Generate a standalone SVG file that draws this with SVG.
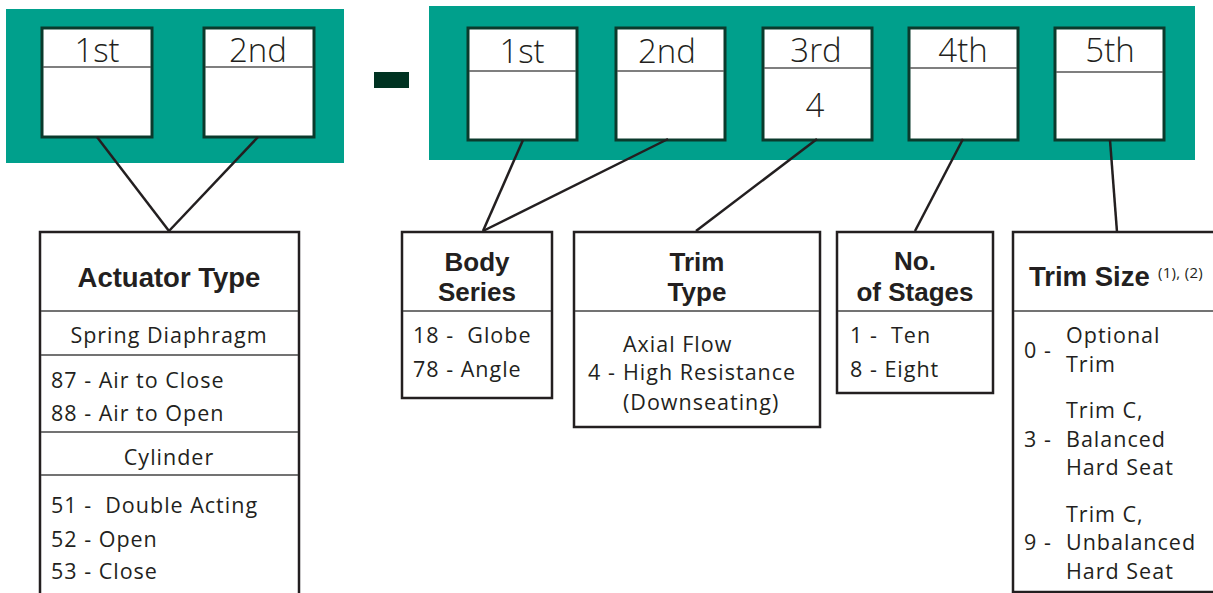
<svg xmlns="http://www.w3.org/2000/svg" width="1213" height="593" viewBox="0 0 1213 593">
  <style>
    .panel { fill: #00a08c; }
    .slot { fill: #ffffff; stroke: #0b3a2c; stroke-width: 3; }
    .slotdiv { stroke: #555555; stroke-width: 1.5; }
    .box { fill: #ffffff; stroke: #231f20; stroke-width: 2.5; }
    .div { stroke: #444444; stroke-width: 1.5; }
    .conn line { stroke: #231f20; stroke-width: 2.5; }
    text { font-family: "Open Sans", "Liberation Sans", sans-serif; fill: #231f20; }
    .pos { font-size: 33px; font-weight: 300; text-anchor: middle; }
    .head { font-family: "Liberation Sans", Arial, sans-serif; font-size: 26px; font-weight: 700; text-anchor: middle; }
    .big { font-size: 27.5px; }
    .item { font-size: 21.5px; letter-spacing: 1px; }
    .mid { text-anchor: middle; }
    .sup { font-size: 15px; letter-spacing: 0.3px; }
  </style>

  <!-- code panels -->
  <rect class="panel" x="6" y="9" width="338" height="154"/>
  <rect class="panel" x="429" y="6" width="766" height="154"/>
  <rect x="374" y="72" width="35" height="16" fill="#003322"/>

  <!-- left panel slots -->
  <g id="slot-a1">
    <rect class="slot" x="42" y="28" width="110" height="109"/>
    <line class="slotdiv" x1="43" y1="67" x2="151" y2="67"/>
    <text class="pos" x="97" y="62">1st</text>
  </g>
  <g id="slot-a2">
    <rect class="slot" x="204" y="28" width="110" height="109"/>
    <line class="slotdiv" x1="205" y1="67" x2="313" y2="67"/>
    <text class="pos" x="258" y="62">2nd</text>
  </g>

  <!-- right panel slots -->
  <g id="slot-b1">
    <rect class="slot" x="468" y="28" width="109" height="112"/>
    <line class="slotdiv" x1="469" y1="71" x2="576" y2="71"/>
    <text class="pos" x="522" y="63">1st</text>
  </g>
  <g id="slot-b2">
    <rect class="slot" x="616" y="28" width="109" height="112"/>
    <line class="slotdiv" x1="617" y1="71" x2="724" y2="71"/>
    <text class="pos" x="667" y="63">2nd</text>
  </g>
  <g id="slot-b3">
    <rect class="slot" x="763" y="28" width="109" height="112"/>
    <line class="slotdiv" x1="764" y1="68" x2="871" y2="68"/>
    <text class="pos" x="816" y="62">3rd</text>
    <text class="pos" x="815" y="117">4</text>
  </g>
  <g id="slot-b4">
    <rect class="slot" x="909" y="28" width="109" height="112"/>
    <line class="slotdiv" x1="910" y1="68" x2="1017" y2="68"/>
    <text class="pos" x="963" y="62">4th</text>
  </g>
  <g id="slot-b5">
    <rect class="slot" x="1055" y="28" width="109" height="112"/>
    <line class="slotdiv" x1="1056" y1="72" x2="1163" y2="72"/>
    <text class="pos" x="1110" y="62">5th</text>
  </g>

  <!-- connectors -->
  <g id="connectors" class="conn">
    <line x1="97" y1="137" x2="169" y2="231"/>
    <line x1="258" y1="137" x2="169" y2="231"/>
    <line x1="523" y1="140" x2="483" y2="231"/>
    <line x1="668" y1="139" x2="483" y2="231"/>
    <line x1="817" y1="139" x2="696" y2="231"/>
    <line x1="963" y1="139" x2="915" y2="231"/>
    <line x1="1110" y1="140" x2="1117" y2="232"/>
  </g>

  <!-- Actuator Type -->
  <g id="actuator-type">
    <rect class="box" x="40" y="232" width="259" height="370"/>
    <line class="div" x1="41" y1="311" x2="298" y2="311"/>
    <line class="div" x1="41" y1="355" x2="298" y2="355"/>
    <line class="div" x1="41" y1="432" x2="298" y2="432"/>
    <line class="div" x1="41" y1="475" x2="298" y2="475"/>
    <text class="head big" x="169" y="287">Actuator Type</text>
    <text class="item mid" x="169" y="343">Spring Diaphragm</text>
    <text class="item" x="51" y="388">87 - Air to Close</text>
    <text class="item" x="51" y="421">88 - Air to Open</text>
    <text class="item mid" x="169" y="465">Cylinder</text>
    <text class="item" x="51" y="513" xml:space="preserve">51 -  Double Acting</text>
    <text class="item" x="51" y="547">52 - Open</text>
    <text class="item" x="51" y="579">53 - Close</text>
  </g>

  <!-- Body Series -->
  <g id="body-series">
    <rect class="box" x="402" y="232" width="150" height="166"/>
    <line class="div" x1="403" y1="311" x2="551" y2="311"/>
    <text class="head" x="477" y="271">Body</text>
    <text class="head" x="477" y="301">Series</text>
    <text class="item" x="413" y="343" xml:space="preserve">18 -  Globe</text>
    <text class="item" x="413" y="377">78 - Angle</text>
  </g>

  <!-- Trim Type -->
  <g id="trim-type">
    <rect class="box" x="574" y="232" width="246" height="195"/>
    <line class="div" x1="575" y1="311" x2="819" y2="311"/>
    <text class="head" x="697" y="271">Trim</text>
    <text class="head" x="697" y="301">Type</text>
    <text class="item" x="623" y="352">Axial Flow</text>
    <text class="item" x="588" y="380">4 -</text>
    <text class="item" x="623" y="380">High Resistance</text>
    <text class="item" x="623" y="410">(Downseating)</text>
  </g>

  <!-- No. of Stages -->
  <g id="no-of-stages">
    <rect class="box" x="837" y="232" width="156" height="161"/>
    <line class="div" x1="838" y1="311" x2="992" y2="311"/>
    <text class="head" x="915" y="270">No.</text>
    <text class="head" x="915" y="301">of Stages</text>
    <text class="item" x="850" y="343" xml:space="preserve">1 -  Ten</text>
    <text class="item" x="850" y="377">8 - Eight</text>
  </g>

  <!-- Trim Size -->
  <g id="trim-size">
    <rect class="box" x="1013" y="232" width="220" height="360"/>
    <line class="div" x1="1014" y1="311" x2="1213" y2="311"/>
    <text class="head big" x="1029" y="286" style="text-anchor:start">Trim Size</text>
    <text class="sup" x="1158" y="278">(1), (2)</text>
    <text class="item" x="1024" y="358">0 -</text>
    <text class="item" x="1066" y="343">Optional</text>
    <text class="item" x="1066" y="372">Trim</text>
    <text class="item" x="1066" y="418">Trim C,</text>
    <text class="item" x="1024" y="447">3 -</text>
    <text class="item" x="1066" y="447">Balanced</text>
    <text class="item" x="1066" y="475">Hard Seat</text>
    <text class="item" x="1066" y="522">Trim C,</text>
    <text class="item" x="1024" y="550">9 -</text>
    <text class="item" x="1066" y="550">Unbalanced</text>
    <text class="item" x="1066" y="579">Hard Seat</text>
  </g>
</svg>
